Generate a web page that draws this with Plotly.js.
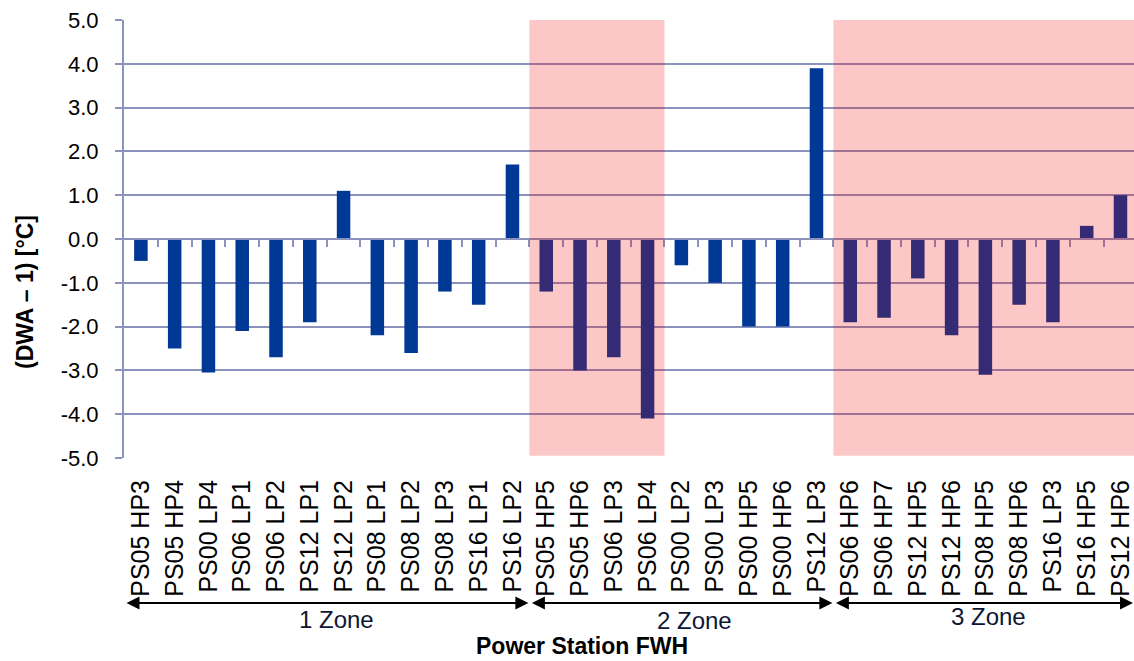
<!DOCTYPE html>
<html>
<head>
<meta charset="utf-8">
<script src="https://cdn.plot.ly/plotly-3.0.1.min.js"></script>
<style>html,body{margin:0;padding:0;background:#fff;overflow:hidden}</style>
</head>
<body>
<div id="chart" style="width:1134px;height:661px"></div>
<script>
// ---- data ----
const categories = [
  'PS05 HP3','PS05 HP4','PS00 LP4','PS06 LP1','PS06 LP2','PS12 LP1','PS12 LP2','PS08 LP1','PS08 LP2','PS08 LP3','PS16 LP1','PS16 LP2',
  'PS05 HP5','PS05 HP6','PS06 LP3','PS06 LP4','PS00 LP2','PS00 LP3','PS00 HP5','PS00 HP6','PS12 LP3',
  'PS06 HP6','PS06 HP7','PS12 HP5','PS12 HP6','PS08 HP5','PS08 HP6','PS16 LP3','PS16 HP5','PS12 HP6'
];
const values = [
  -0.5, -2.5, -3.05, -2.1, -2.7, -1.9, 1.1, -2.2, -2.6, -1.2, -1.5, 1.7,
  -1.2, -3.0, -2.7, -4.1, -0.6, -1.0, -2.0, -2.0, 3.9,
  -1.9, -1.8, -0.9, -2.2, -3.1, -1.5, -1.9, 0.3, 1.0
];
const zoneNames = ['1 Zone', '2 Zone', '3 Zone'];
const zoneSizes = [12, 9, 9];
const shadedIndexRanges = [[12, 15], [21, 29]];
const yTickValues = [-5, -4, -3, -2, -1, 0, 1, 2, 3, 4, 5];
const yTickLabels = ['-5.0', '-4.0', '-3.0', '-2.0', '-1.0', '0.0', '1.0', '2.0', '3.0', '4.0', '5.0'];
const xTitle = 'Power Station FWH';
const yTitle = '(DWA \u2013 1) [\u00B0C]';

// ---- derived positions (category slots; names repeat, so use slot index) ----
const slots = categories.map((_, i) => i);
const boundaries = categories.slice(1).map((_, i) => i + 0.5);

// ---- styles ----
const gridColor = '#8b92bd';
const barColor = '#003895';
const font = 'Liberation Sans, Arial, sans-serif';
const xMax = 29.4;

const traces = [
  {type: 'bar', x: slots, y: values, text: categories, marker: {color: barColor}, width: 0.4,
   hovertemplate: '%{text}: %{y}<extra></extra>', textposition: 'none', xaxis: 'x', yaxis: 'y'},
  {type: 'scatter', mode: 'markers', x: slots, y: values, marker: {opacity: 0},
   hoverinfo: 'skip', xaxis: 'x2', yaxis: 'y', showlegend: false}
];

const shapes = shadedIndexRanges.map(r => ({
  type: 'rect', layer: 'above', xref: 'x', yref: 'y',
  x0: r[0] - 0.5, x1: Math.min(r[1] + 0.5, xMax + 0.1), y0: -4.95, y1: 5,
  fillcolor: 'rgba(240,0,0,0.22)', line: {width: 0}
}));

const annotations = [];
const zoneTextY = [-0.368, -0.371, -0.362];
const zoneTextX = [5.8, 16.4, 25.1];
let start = 0;
zoneSizes.forEach((n, i) => {
  const x0 = start - 0.5;
  const x1 = Math.min(start + n - 0.5, xMax);
  annotations.push({
    xref: 'x', yref: 'paper', x: x1, y: -0.331,
    axref: 'x', ayref: 'pixel', ax: x0, ay: 0,
    text: '', showarrow: true, arrowside: 'end+start', arrowhead: 2, startarrowhead: 2,
    arrowsize: 1.3, startarrowsize: 1.3, arrowwidth: 2, arrowcolor: '#000',
    standoff: 1, startstandoff: 1
  });
  annotations.push({
    xref: 'x', yref: 'paper', x: zoneTextX[i], y: zoneTextY[i],
    text: zoneNames[i], showarrow: false, xanchor: 'center', yanchor: 'middle',
    font: {family: font, size: 24, color: '#0d1733'}
  });
  start += n;
});
annotations.push({
  xref: 'x', yref: 'paper', x: 13.06, y: -0.429, text: '<b>' + xTitle + '</b>',
  showarrow: false, xanchor: 'center', yanchor: 'middle',
  font: {family: font, size: 23, color: '#000'}
});
annotations.push({
  xref: 'paper', yref: 'paper', x: -0.098, y: 0.379, text: '<b>' + yTitle + '</b>',
  textangle: -90, showarrow: false, xanchor: 'center', yanchor: 'middle',
  font: {family: font, size: 23, color: '#000'}
});

const layout = {
  width: 1134, height: 661,
  margin: {l: 124, r: 0, t: 20, b: 203, pad: 0},
  paper_bgcolor: '#fff', plot_bgcolor: '#fff',
  showlegend: false,
  xaxis: {
    type: 'linear', range: [-0.5, xMax], anchor: 'y',
    tickmode: 'array', tickvals: slots, ticktext: categories,
    tickangle: -90, ticks: '', showgrid: false, showline: false, zeroline: false,
    tickfont: {family: font, size: 25, color: '#000'}, ticklabelstandoff: 16,
    fixedrange: true
  },
  xaxis2: {
    type: 'linear', range: [-0.5, xMax], overlaying: 'x', anchor: 'free', position: 0.5,
    side: 'bottom', tickmode: 'array', tickvals: boundaries,
    ticks: 'outside', ticklen: 7, tickwidth: 2, tickcolor: gridColor,
    showticklabels: false, showline: true, linecolor: gridColor,
    linewidth: 2, showgrid: false, zeroline: false, fixedrange: true
  },
  yaxis: {
    range: [-5, 5], tickmode: 'array', tickvals: yTickValues, ticktext: yTickLabels,
    ticks: 'outside', ticklen: 7, tickwidth: 2, tickcolor: gridColor,
    showline: true, linecolor: gridColor, linewidth: 2,
    showgrid: true, gridcolor: gridColor, gridwidth: 2, zeroline: false,
    tickfont: {family: font, size: 22, color: '#000'}, ticklabelstandoff: 12,
    fixedrange: true
  },
  shapes: shapes,
  annotations: annotations
};

Plotly.newPlot('chart', traces, layout, {displayModeBar: false, staticPlot: true});
</script>
</body>
</html>
